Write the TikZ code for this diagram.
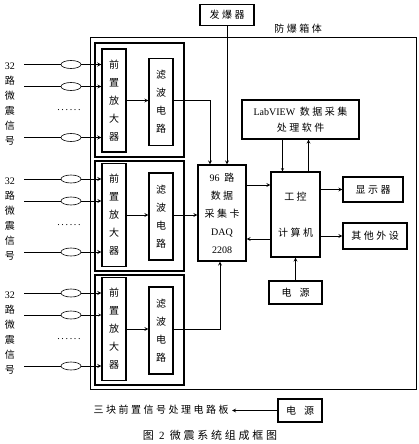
\documentclass[tikz,border=0pt]{standalone}
\usepackage{fontspec}
\setmainfont{Noto Sans CJK SC}[LetterSpace=25]
\newfontfamily\lat{Liberation Serif}
\usepackage{tikz}
\usetikzlibrary{positioning}
\usetikzlibrary{shapes.geometric}
\tikzset{
    quake diagram/.style={
            x=1pt,y=-1pt,
            font=\fontsize{10}{12}\selectfont,
            box/.style={draw,line width=1.1pt,inner sep=0pt},
            board/.style={draw,line width=1.1pt,minimum width=89pt,inner sep=0pt},
            vtext/.style={align=center,font=\fontsize{10}{18}\selectfont},
            link/.style={line width=0.8pt},
            arrow/.style={-stealth,line width=0.8pt},
            cable/.style={draw,ellipse,line width=0.6pt,minimum width=20pt,minimum height=8pt,inner sep=0pt}
        }
    }
\begin{document}
\begin{tikzpicture}[quake diagram]
    \useasboundingbox (0,0) rectangle (419,444);
    \node (case) [draw,line width=1pt,minimum width=326pt,minimum height=351pt,inner sep=0pt] at (253,213.5) {};
    \node (caselbl) at (298,29) {防爆箱体};
    \node (det) [box,minimum width=54pt,minimum height=21pt] at (227,15) {发爆器};
    \foreach \i/\cy/\bt/\bb/\wb in {1/100.5/43/157/0.8,2/215/161/271/0.8,3/329/275/385/0.4}{
        \node (brd\i) [board,minimum height=\bb-\bt] at (139.5,{(\bt+\bb)/2}) {};
        \node (amp\i) [box,vtext,minimum width=24pt,minimum height=103pt] at (114,\cy) {前\\置\\放\\大\\器};
        \node (flt\i) [box,vtext,minimum width=24pt,minimum height=87pt] at (161,\cy+1.5) {滤\\波\\电\\路};
        \node (sig\i) [align=center,font=\fontsize{10}{15}\selectfont] at (10,\cy+4) {{\lat 32}\\路\\微\\震\\信\\号};
        \node (dots\i) at (69,\cy+10) {\lat.\,.\,.\,.\,.\,.};
        \foreach \j/\dy/\w in {a/-36/0.9,b/-14/\wb,c/37/0.9}{
            \node (cab\i\j) [cable] at (71,\cy+\dy) {};
            \coordinate (in\i\j) at (24,\cy+\dy);
            \draw [link,line width=\w pt] (in\i\j) -- (cab\i\j);
            \draw [arrow,line width=\w pt] (cab\i\j) -- (amp\i.west |- cab\i\j);
        }
        \draw [arrow] (amp\i.east) -- (flt\i.west |- amp\i.east);
    }
    \node (daq) [box,vtext,minimum width=48pt,minimum height=96pt] at (222,213) {{\lat 96} 路\\数据\\采集卡\\{\lat DAQ}\\{\lat 2208}};
    \node (pc) [box,align=center,font=\fontsize{10}{18}\selectfont,minimum width=49pt,minimum height=85pt] at (295.5,214.5) {工控\\[18pt]计算机};
    \node (disp) [box,minimum width=60pt,minimum height=25pt] at (373,189.5) {显示器};
    \node (ext) [box,minimum width=64pt,minimum height=26pt] at (375,236) {其他外设};
    \node (pwr) [box,minimum width=53pt,minimum height=23pt] at (295.5,292.5) {电\hspace{8pt}源};
    \node (lab) [box,align=center,font=\fontsize{10}{16}\selectfont,minimum width=117pt,minimum height=39pt] at (300.5,119.5) {{\lat LabVIEW} 数据采集\\处理软件};
    \node (brdtxt) at (161,409.5) {三块前置信号处理电路板};
    \node (pwr2) [box,minimum width=44pt,minimum height=23pt] at (300,410.5) {电\hspace{8pt}源};
    \node (cap) [font=\fontsize{11}{13}\selectfont] at (210,435) {图 {\lat 2} 微震系统组成框图};
    \coordinate (j1) at (210,0);
    \coordinate (j3) at (220,0);
    \draw [arrow] (flt1.east |- amp1.east) -| (j1 |- daq.north);
    \draw [arrow] (flt2.east |- amp2.east) -- (daq.west |- amp2.east);
    \draw [arrow] (flt3.east |- amp3.east) -| (j3 |- daq.south);
    \draw [arrow] (det) -- (det |- daq.north);
    \draw [arrow] ([yshift=28pt]daq.east) -- ([yshift=28pt]daq.east -| pc.west);
    \draw [arrow] ([yshift=-26pt]daq.east -| pc.west) -- ([yshift=-26pt]daq.east);
    \draw [arrow] (pc.east |- disp) -- (disp);
    \draw [arrow] (pc.east |- ext) -- (ext);
    \draw [arrow] (pwr) -- (pc);
    \draw [arrow,line width=0.5pt] ([xshift=-13pt]pc.north |- lab.south) -- ([xshift=-13pt]pc.north);
    \draw [arrow] ([xshift=13pt]pc.north) -- ([xshift=13pt]pc.north |- lab.south);
    \draw [arrow] (pwr2) -- (brdtxt.east |- pwr2);
\end{tikzpicture}
\end{document}
